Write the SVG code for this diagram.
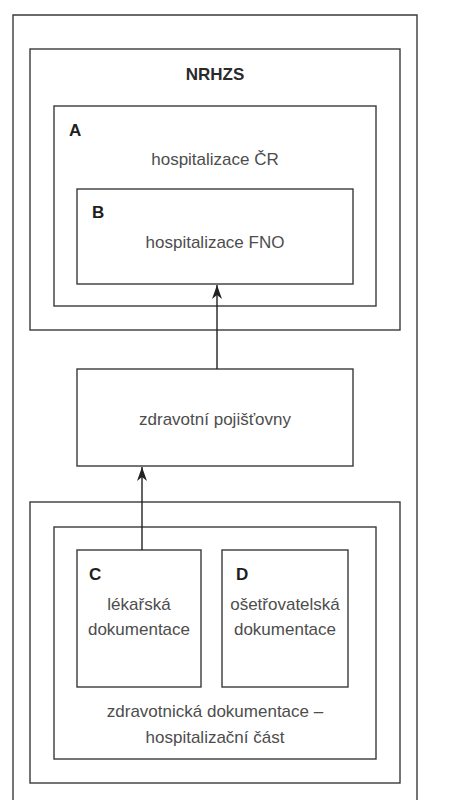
<svg xmlns="http://www.w3.org/2000/svg" width="453" height="800" viewBox="0 0 453 800">
<style>
.box{fill:none;stroke:#3a3a3a;stroke-width:1.4}
.t{font-family:"Liberation Sans",Arial,sans-serif;font-size:17px;fill:#4d4d4d;text-anchor:middle}
.lbl{font-family:"Liberation Sans",Arial,sans-serif;font-size:17px;font-weight:bold;fill:#1e1e1e}
.ttl{font-family:"Liberation Sans",Arial,sans-serif;font-size:17px;font-weight:bold;fill:#2a2a2a;text-anchor:middle}
.conn{stroke:#222;stroke-width:1.4;fill:none}
</style>
<defs>
<marker id="ah" viewBox="0 0 14 10" refX="14" refY="5" markerWidth="14" markerHeight="10" markerUnits="userSpaceOnUse" orient="auto">
<path d="M0,0 L14,5 L0,10 L4,5 Z" fill="#222"/>
</marker>
</defs>
<rect width="453" height="800" fill="#fff"/>
<g id="frame"><path class="box" d="M13,805 L13,15 L417,15 L417,805"/></g>
<g id="nrhzs">
<rect class="box" x="30" y="49" width="370" height="281"/>
<text class="ttl" x="215" y="80">NRHZS</text>
</g>
<g id="A">
<rect class="box" x="54" y="106" width="322" height="200"/>
<text class="lbl" x="69" y="136">A</text>
<text class="t" x="215" y="165">hospitalizace ČR</text>
</g>
<g id="B">
<rect class="box" x="77" y="189" width="276" height="95"/>
<text class="lbl" x="92" y="218">B</text>
<text class="t" x="215" y="248">hospitalizace FNO</text>
</g>
<g id="zp">
<rect class="box" x="77" y="369" width="276" height="97"/>
<text class="t" x="215" y="425">zdravotní pojišťovny</text>
</g>
<g id="outerDoc"><rect class="box" x="30" y="502" width="370" height="281"/></g>
<g id="doc">
<rect class="box" x="54" y="527" width="322" height="232"/>
<text class="t" x="215" y="717">zdravotnická dokumentace –</text>
<text class="t" x="215" y="743">hospitalizační část</text>
</g>
<g id="C">
<rect class="box" x="77" y="550" width="124" height="137"/>
<text class="lbl" x="89" y="580">C</text>
<text class="t" x="139" y="610">lékařská</text>
<text class="t" x="139" y="635">dokumentace</text>
</g>
<g id="D">
<rect class="box" x="222" y="550" width="126" height="137"/>
<text class="lbl" x="236" y="580">D</text>
<text class="t" x="285" y="610">ošetřovatelská</text>
<text class="t" x="285" y="635">dokumentace</text>
</g>
<g id="connectors">
<line class="conn" x1="217" y1="369" x2="217" y2="285" marker-end="url(#ah)"/>
<line class="conn" x1="142" y1="550" x2="142" y2="467" marker-end="url(#ah)"/>
</g>
</svg>
